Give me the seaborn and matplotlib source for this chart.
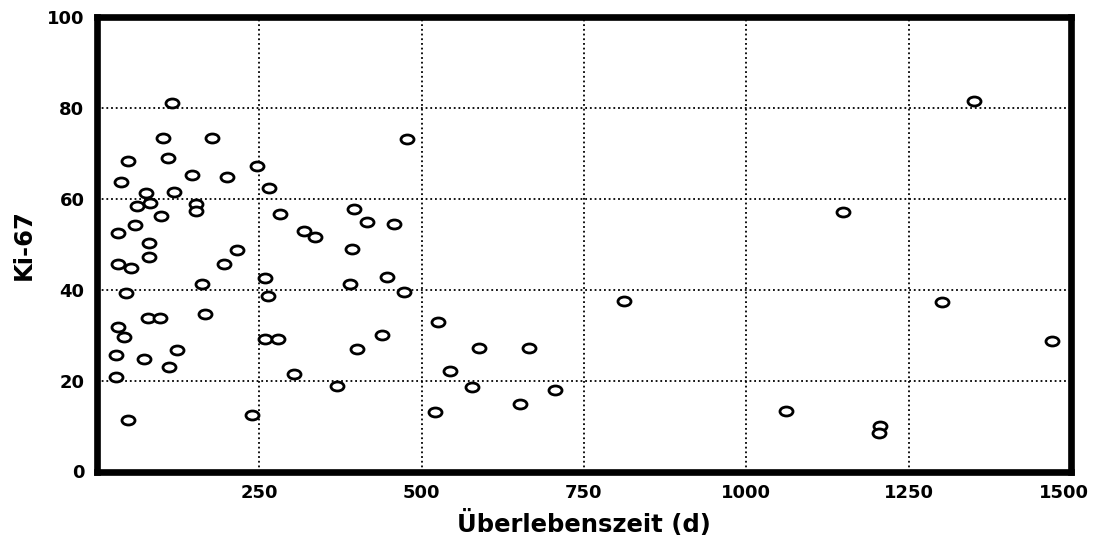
import numpy as np
import pandas as pd
import seaborn as sns
import matplotlib.pyplot as plt
from matplotlib.markers import MarkerStyle
from matplotlib.transforms import Affine2D, ScaledTranslation

# Überlebenszeit (Tage) und Ki-67 (%)
surv_days = [115, 101, 177, 48, 110, 147, 200, 246, 37, 75,
             119, 265, 61, 82, 153, 153, 99, 282, 59, 33,
             80, 216, 80, 33, 52, 196, 258, 161, 45, 263,
             167, 78, 97, 33, 42, 258, 278, 30, 73, 123,
             111, 30, 304, 47, 239, 477, 396, 416, 457, 319,
             335, 392, 390, 447, 473, 439, 400, 525, 588, 369,
             544, 577, 520, 812, 666, 706, 652, 1061, 1350, 1149,
             1302, 1471, 1206, 1204]
ki67 = [81.1, 73.4, 73.4, 68.3, 69.0, 65.3, 64.7, 67.3, 63.7, 61.3,
        61.4, 62.3, 58.5, 59.1, 58.8, 57.4, 56.3, 56.7, 54.3, 52.5,
        50.2, 48.7, 47.2, 45.6, 44.8, 45.6, 42.6, 41.2, 39.2, 38.6,
        34.6, 33.7, 33.8, 31.8, 29.7, 29.2, 29.1, 25.7, 24.7, 26.7,
        22.9, 20.8, 21.5, 11.4, 12.5, 73.1, 57.8, 55.0, 54.5, 53.0,
        51.7, 48.9, 41.3, 42.7, 39.4, 30.0, 26.9, 33.0, 27.2, 18.9,
        22.2, 18.6, 13.2, 37.5, 27.2, 18.0, 14.9, 13.3, 81.5, 57.1,
        37.2, 28.7, 10.0, 8.4]

x_ticks = [250, 500, 750, 1000, 1250, 1500]
y_ticks = [0, 20, 40, 60, 80, 100]

df = pd.DataFrame({"Überlebenszeit (d)": surv_days, "Ki-67": ki67})

sns.set_style("white")
plt.rcParams['font.family'] = ['DejaVu Sans']
plt.rcParams['text.color'] = 'black'
plt.rcParams['xtick.color'] = 'black'
plt.rcParams['ytick.color'] = 'black'
plt.rcParams['axes.labelcolor'] = 'black'

fig = plt.figure(figsize=(10.93, 5.40), dpi=100)
ax = fig.add_axes([97 / 1093, 1 - 471.5 / 540, 974 / 1093, 454.5 / 540])

# leicht gestauchter Kreis als Marker
oval = MarkerStyle("o", transform=Affine2D().scale(1.45, 1.0))
sns.scatterplot(data=df, x="Überlebenszeit (d)", y="Ki-67", ax=ax,
                marker=oval, s=42, facecolor="white", edgecolor="black",
                linewidth=2.0, zorder=3)

ax.set_xlim(0, 1500)
ax.set_ylim(0, 100)
ax.set_xticks(x_ticks)
ax.set_yticks(y_ticks)
ax.tick_params(length=0, labelsize=13, pad=9)
for lab in ax.get_xticklabels() + ax.get_yticklabels():
    lab.set_fontweight("bold")

# letzte Beschriftung etwas nach links, damit sie nicht abgeschnitten wird
last = ax.get_xticklabels()[-1]
last.set_transform(last.get_transform() + ScaledTranslation(-5 / 72, 0, fig.dpi_scale_trans))

ax.grid(True, color="black", linestyle=(0, (1, 1.6)), linewidth=1.3)
ax.set_axisbelow(True)

for sp in ax.spines.values():
    sp.set_visible(True)
    sp.set_color("black")
    sp.set_linewidth(4.8)
    sp.set_zorder(4)

ax.set_xlabel("Überlebenszeit (d)", fontsize=17.5, fontweight="bold", labelpad=6)
ax.set_ylabel("Ki-67", fontsize=17.5, fontweight="bold", labelpad=8)

fig.savefig("out.png", dpi=100)
